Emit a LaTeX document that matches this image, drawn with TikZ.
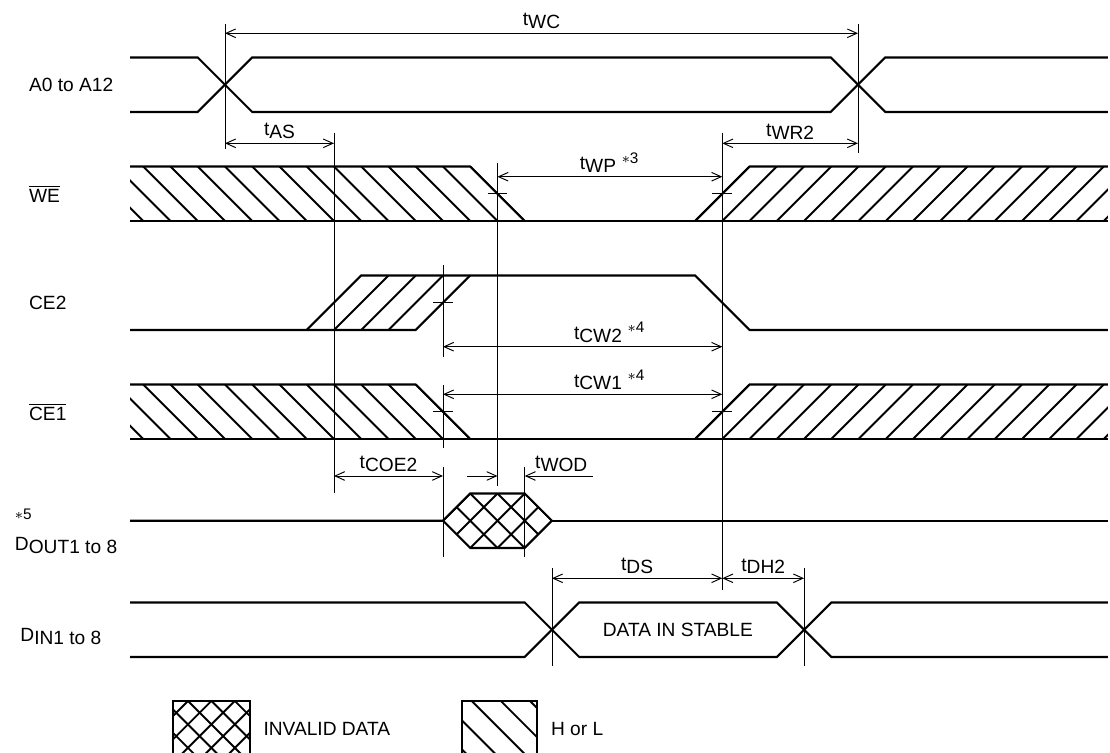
\documentclass[tikz,border=0pt]{standalone}
\usepackage{fontspec}
\setmainfont{Liberation Sans}
\usetikzlibrary{arrows.meta}
\newcommand{\tsub}[2]{#1\raisebox{-1.5pt}{#2}}
\newcommand{\nt}[1]{\hspace{0.3em}\raisebox{3.5pt}{\fontsize{8}{9}\selectfont$\ast$#1}}
\tikzset{
  sig/.style={line width=1.1pt},
  hatch/.style={line width=1pt},
  ext/.style={line width=0.5pt},
  dimline/.style={line width=0.5pt, <->},
  sname/.style={anchor=west, inner sep=0pt},
  lbl/.style={anchor=south, inner sep=0pt},
}
\tikzset{
  pics/hl/.style args={#1/#2}{% #1=left end, #2=top of falling edge
    code = {
      \begin{scope}
        \clip (#1,0) rectangle ({#2+1},1);
        \foreach \k in {0,...,15}
          \draw[hatch] ({#2-0.5*\k},1) -- ({#2+1-0.5*\k},0);
      \end{scope}
}}}
\tikzset{
  pics/lh/.style args={#1/#2}{% #1=foot of rising edge, #2=right end
    code = {
      \begin{scope}
        \clip (#1,0) rectangle (#2,1);
        \foreach \k in {0,...,15}
          \draw[hatch] ({#1+0.5*\k},0) -- ({#1+1+0.5*\k},1);
      \end{scope}
}}}
\begin{document}
\begin{tikzpicture}[font=\fontsize{10}{12}\selectfont, >={Straight Barb[length=5pt,width=4.5pt]}]
  \useasboundingbox (-0.128,-1.761) rectangle (20.239,12.055);
  % signal names
  \node[sname] (a) at (0.40,10.5) {A0 to A12};
  \node[sname] (we) at (0.40,8.5) {$\overline{\mbox{WE}}$};
  \node[sname] (ce2) at (0.40,6.5) {CE2};
  \node[sname] (ce1) at (0.40,4.5) {$\overline{\mbox{CE1}}$};
  \node[sname] (n5) at (0.14,2.62) {\fontsize{8}{9}\selectfont$\ast$5};
  \node[sname] (dout) at (0.14,2.04) {\tsub{D}{OUT1 to 8}};
  \node[sname] (din) at (0.24,0.38) {\tsub{D}{IN1 to 8}};

  % A0 to A12
  \draw[sig] (2.26,11) -- (3.5,11) -- (4.5,10) -- (15.115,10) -- (16.115,11) -- (20.2,11);
  \draw[sig] (2.26,10) -- (3.5,10) -- (4.5,11) -- (15.115,11) -- (16.115,10) -- (20.2,10);
  % WE
  \pic at (0,8) {hl={2.26/8.5}};
  \pic at (0,8) {lh={12.625/20.2}};
  \draw[sig] (2.26,9) -- (8.5,9) -- (9.5,8);
  \draw[sig] (2.26,8) -- (20.2,8);
  \draw[sig] (12.625,8) -- (13.625,9) -- (20.2,9);
  % CE2
  \foreach \x in {6,6.5,7}
    \draw[hatch] (\x,6) -- ({\x+1},7);
  \draw[sig] (2.26,6) -- (7.5,6) -- (8.5,7);
  \draw[sig] (5.5,6) -- (6.5,7) -- (12.625,7) -- (13.625,6) -- (20.2,6);
  % CE1
  \pic at (0,4) {hl={2.26/7.5}};
  \pic at (0,4) {lh={12.625/20.2}};
  \draw[sig] (2.26,5) -- (7.5,5) -- (8.5,4);
  \draw[sig] (2.26,4) -- (20.2,4);
  \draw[sig] (12.625,4) -- (13.625,5) -- (20.2,5);
  % DOUT
  \begin{scope}
    \clip (8,2.5) -- (8.5,3) -- (9.5,3) -- (10,2.5) -- (9.5,2) -- (8.5,2) -- cycle;
    \foreach \k in {0,...,4} {
      \draw[hatch] ({7.5+0.5*\k},3) -- ({8.5+0.5*\k},2);
      \draw[hatch] ({7.5+0.5*\k},2) -- ({8.5+0.5*\k},3);
    }
  \end{scope}
  \draw[sig] (2.26,2.5) -- (8,2.5) -- (8.5,3) -- (9.5,3) -- (10,2.5) -- (9.5,2) -- (8.5,2) -- (8,2.5);
  \draw[sig] (10,2.5) -- (20.2,2.5);
  % DIN
  \draw[sig] (2.26,1) -- (9.5,1) -- (10.5,0) -- (14.125,0) -- (15.125,1) -- (20.2,1);
  \draw[sig] (2.26,0) -- (9.5,0) -- (10.5,1) -- (14.125,1) -- (15.125,0) -- (20.2,0);
  \node (dis) at (12.31,0.5) {DATA IN STABLE};

  % extension lines
  \draw[ext] (4,11.615) -- (4,9.32);
  \draw[ext] (15.615,11.615) -- (15.615,9.25);
  \draw[ext] (6,9.615) -- (6,3.01);
  \draw[ext] (9,9.065) -- (9,3.14);
  \draw[ext] (8,7.19) -- (8,5.505);
  \draw[ext] (8,4.99) -- (8,3.835);
  \draw[ext] (8,3.485) -- (8,1.835);
  \draw[ext] (9.5,3.485) -- (9.5,1.835);
  \draw[ext] (13.125,9.615) -- (13.125,1.23);
  \draw[ext] (10,1.633) -- (10,-0.165);
  \draw[ext] (14.625,1.633) -- (14.625,-0.165);
  \foreach \p in {(9,8.5),(13.125,8.5),(8,6.5),(8,4.5),(13.125,4.5)}
    \draw[ext] \p ++(-0.18,0) -- ++(0.36,0);

  % timing
  \draw[dimline] (4,11.444) -- node[above=2pt, inner sep=0pt] (wc) {\tsub{t}{WC}} (15.615,11.444);
  \draw[dimline] (4,9.425) -- node[above=2pt, inner sep=0pt] (as) {\tsub{t}{AS}} (6,9.425);
  \draw[dimline] (13.125,9.425) -- node[above=2pt, inner sep=0pt] (wr) {\tsub{t}{WR2}} (15.615,9.425);
  \draw[dimline] (9,8.812) -- (13.125,8.812);
  \node[lbl] (wp) at (11.05,8.88) {\tsub{t}{WP}\nt{3}};
  \draw[dimline] (8,5.693) -- (13.125,5.693);
  \node[lbl] (cw2) at (11.05,5.76) {\tsub{t}{CW2}\nt{4}};
  \draw[dimline] (8,4.82) -- (13.125,4.82);
  \node[lbl] (cw1) at (11.05,4.89) {\tsub{t}{CW1}\nt{4}};
  \draw[dimline] (6,3.321) -- node[above=2pt, inner sep=0pt] (coe) {\tsub{t}{COE2}} (8,3.321);
  \draw[ext, ->] (8.446,3.321) -- (9,3.321);
  \draw[ext, ->] (10.75,3.321) -- (9.5,3.321);
  \node[lbl] (wod) at (10.17,3.39) {\tsub{t}{WOD}};
  \draw[dimline] (10,1.444) -- node[above=2pt, inner sep=0pt] (ds) {\tsub{t}{DS}} (13.125,1.444);
  \draw[dimline] (13.125,1.444) -- node[above=2pt, inner sep=0pt] (dh) {\tsub{t}{DH2}} (14.625,1.444);

  % legend
  \begin{scope}
    \clip (3.05,-1.8) rectangle (4.46,-0.807);
    \foreach \k in {-4,...,6} {
      \draw[hatch] ({3.321+0.43*\k-2},1.193) -- ({3.321+0.43*\k+2},-2.807);
      \draw[hatch] ({3.321+0.43*\k-2},-2.807) -- ({3.321+0.43*\k+2},1.193);
    }
  \end{scope}
  \draw[sig] (3.05,-1.8) |- (4.46,-0.807) -- (4.46,-1.8);
  \node[sname] (inv) at (4.70,-1.327) {INVALID DATA};
  \begin{scope}
    \clip (8.343,-1.8) rectangle (9.73,-0.807);
    \foreach \k in {-4,...,4}
      \draw[hatch] ({8.527+0.535*\k-2},1.193) -- ({8.527+0.535*\k+2},-2.807);
  \end{scope}
  \draw[sig] (8.343,-1.8) |- (9.73,-0.807) -- (9.73,-1.8);
  \node[sname] (hol) at (9.976,-1.327) {H or L};
\end{tikzpicture}
\end{document}
